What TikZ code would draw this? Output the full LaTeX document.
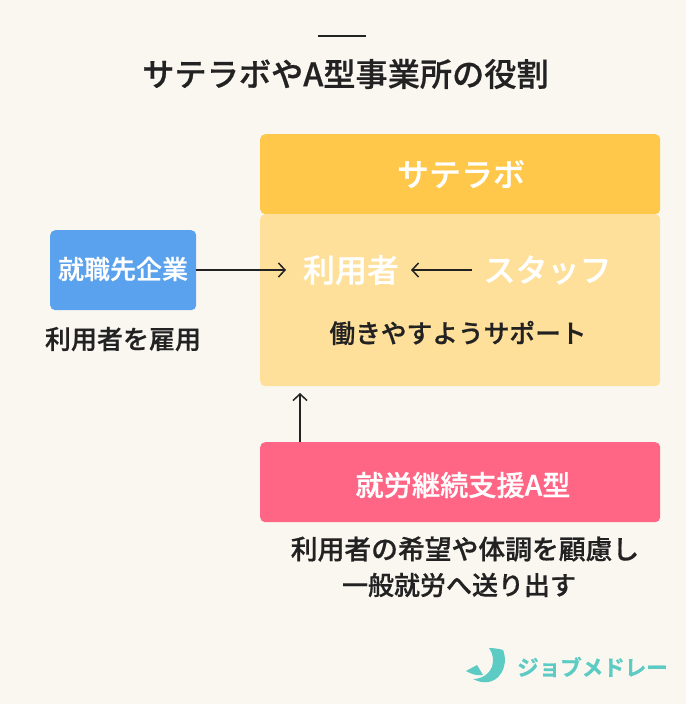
\documentclass[tikz,border=0pt]{standalone}
\usepackage{fontspec}
\setmainfont{Noto Sans CJK JP}[BoldFont={Noto Sans CJK JP Medium},BoldFeatures={FakeBold=0.6}]
\newfontfamily\logofont{Noto Sans CJK JP Bold}[FakeBold=0.8]
\usetikzlibrary{arrows.meta}
\definecolor{bgc}{HTML}{FAF7F0}
\definecolor{ink}{HTML}{222222}
\definecolor{yel}{HTML}{FFC84B}
\definecolor{lyel}{HTML}{FFE09A}
\definecolor{blu}{HTML}{5BA2EE}
\definecolor{pnk}{HTML}{FF6685}
\definecolor{teal}{HTML}{5CCBC3}
\newcommand{\fsz}[1]{\bfseries\fontsize{#1}{#1}\selectfont}
\tikzset{x=1pt,y=-1pt,
 box/.style={rounded corners=5pt,inner sep=0pt,anchor=north west},
 lab/.style={text=ink,inner sep=0pt,anchor=center},
 wlab/.style={text=white,inner sep=0pt,anchor=center},
 arr/.style={draw=ink,line width=1.5pt,-{Straight Barb[length=6.5pt,width=14pt,line width=1.5pt]}}}
\begin{document}
\begin{tikzpicture}
\useasboundingbox (0,0) rectangle (686,704);
\fill[bgc] (0,0) rectangle (686,704);
\draw[ink,line width=1.5pt] (318,36) -- (366,36);
\node[lab,font=\fsz{32.2}] (title) at (345.5,74) {サテラボやA型事業所の役割};
\node[box,fill=yel,minimum width=400pt,minimum height=80pt] (sat) at (260,134) {};
\node[box,fill=lyel,minimum width=400pt,minimum height=172pt] (main) at (260,214) {};
\node[wlab,font=\fsz{32}] (sattext) at (461,174) {サテラボ};
\node[box,fill=blu,minimum width=146pt,minimum height=80pt] (firm) at (50,230) {};
\node[wlab,font=\fsz{26}] (firmtext) at (123,269) {就職先企業};
\node[lab,font=\fsz{26}] (hire) at (123,339) {利用者を雇用};
\node[wlab,font=\fsz{32}] (user) at (351,270) {利用者};
\node[wlab,font=\fsz{32}] (staff) at (547.5,270) {スタッフ};
\node[lab,font=\fsz{25.7}] (sup) at (458,333) {働きやすようサポート};
\node[box,fill=pnk,minimum width=400pt,minimum height=80pt] (a) at (260,442) {};
\node[wlab,font=\fsz{28.2}] (atext) at (463,485) {就労継続支援A型};
\node[lab,font=\fsz{26.8}] (d1) at (465,549) {利用者の希望や体調を顧慮し};
\node[lab,font=\fsz{26}] (d2) at (459,585) {一般就労へ送り出す};
\coordinate (ua) at (286,270);
\coordinate (sa) at (472,270);
\coordinate (sb) at (411,270);
\coordinate (aa) at (300,442);
\coordinate (ab) at (300,393);
\draw[arr] (firm.east|-ua) -- (ua);
\draw[arr] (sa) -- (sb);
\draw[arr] (aa) -- (ab);
\node[font=\logofont\fontsize{21.5}{21.5}\selectfont,text=teal,inner sep=0pt] (logo) at (592.5,667) {ジョブメドレー};
\fill[teal] (489,648) .. controls (494,648) and (500,649) .. (503,650) .. controls (506,657) and (506,668) .. (499,676) .. controls (494,682) and (484,685) .. (473,679) .. controls (482,679) and (489,674) .. (492,667) .. controls (494,661) and (493,653) .. (489,648) -- cycle;
\fill[teal] (466,671) -- (477,665) -- (483,675) .. controls (477,676) and (471,674) .. (466,671) -- cycle;
\end{tikzpicture}
\end{document}
